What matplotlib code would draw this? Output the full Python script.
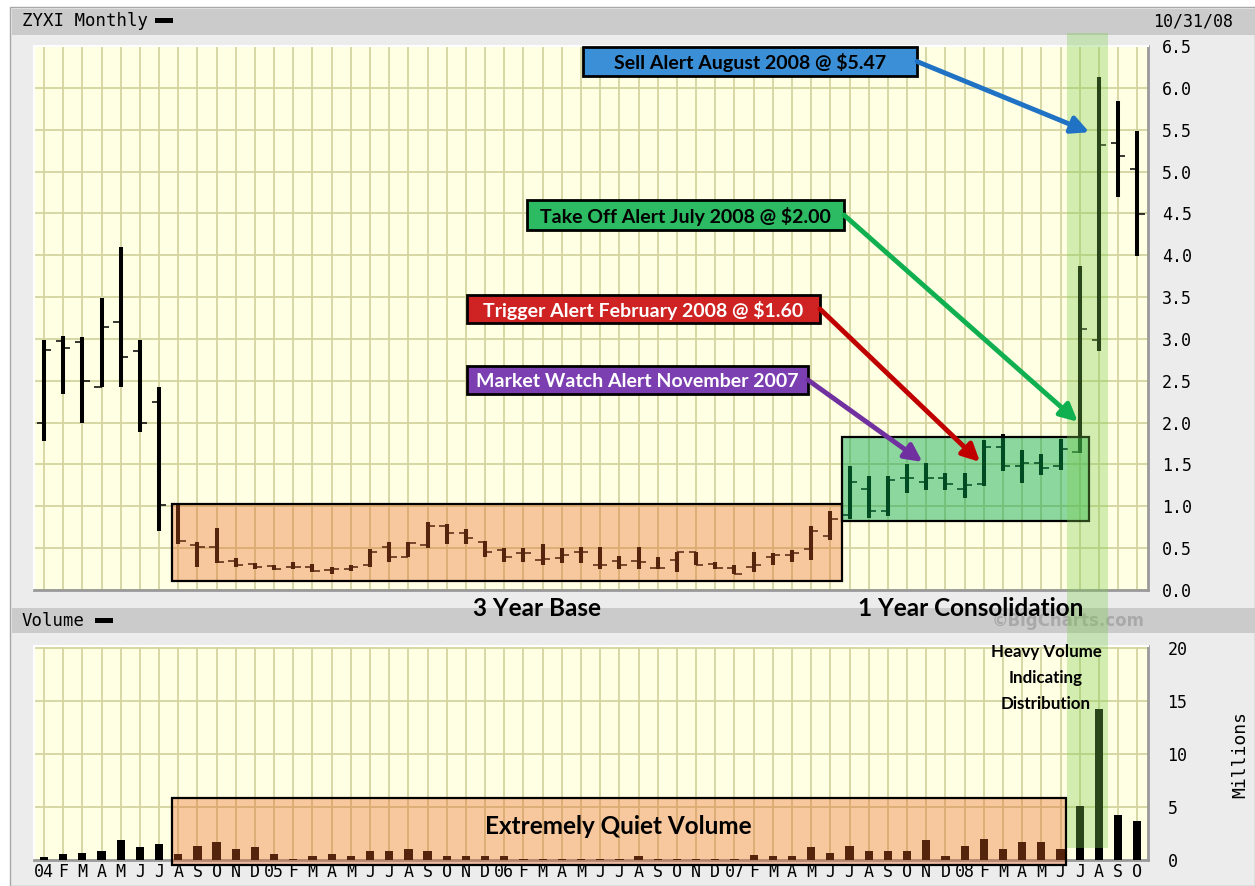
import matplotlib
matplotlib.use("Agg")
import matplotlib.pyplot as plt
from matplotlib.patches import Rectangle

W, H = 1255, 886

# month labels Jan 2004 .. Oct 2008
month_labels = ['04', 'F', 'M', 'A', 'M', 'J', 'J', 'A', 'S', 'O', 'N', 'D',
                '05', 'F', 'M', 'A', 'M', 'J', 'J', 'A', 'S', 'O', 'N', 'D',
                '06', 'F', 'M', 'A', 'M', 'J', 'J', 'A', 'S', 'O', 'N', 'D',
                '07', 'F', 'M', 'A', 'M', 'J', 'J', 'A', 'S', 'O', 'N', 'D',
                '08', 'F', 'M', 'A', 'M', 'J', 'J', 'A', 'S', 'O']

opens = [1.99, 2.98, 2.96, 2.43, 3.20, 2.85, 2.25, 1.03, 0.54, 0.51, 0.35, 0.31,
         0.29, 0.27, 0.27, 0.24, 0.25, 0.30, 0.51, 0.40, 0.54, 0.76, 0.68, 0.57,
         0.48, 0.44, 0.36, 0.38, 0.45, 0.30, 0.35, 0.35, 0.26, 0.36, 0.45, 0.31,
         0.26, 0.28, 0.39, 0.42, 0.49, 0.65, 0.90, 1.21, 0.94, 1.34, 1.29, 1.34,
         1.21, 1.27, 1.71, 1.48, 1.52, 1.48, 1.65, 2.99, 5.34, 5.03]
highs = [2.99, 3.04, 3.02, 3.49, 4.10, 2.99, 2.43, 1.04, 0.57, 0.74, 0.38, 0.32,
         0.30, 0.34, 0.31, 0.27, 0.30, 0.49, 0.57, 0.57, 0.81, 0.79, 0.73, 0.59,
         0.50, 0.50, 0.55, 0.50, 0.51, 0.51, 0.41, 0.51, 0.40, 0.45, 0.45, 0.34,
         0.30, 0.45, 0.44, 0.48, 0.76, 0.94, 1.48, 1.36, 1.36, 1.50, 1.52, 1.40,
         1.40, 1.79, 1.86, 1.67, 1.63, 1.81, 3.87, 6.13, 5.84, 5.48]
lows = [1.78, 2.34, 1.99, 2.43, 2.42, 1.89, 0.71, 0.55, 0.27, 0.32, 0.27, 0.25,
        0.24, 0.25, 0.21, 0.19, 0.23, 0.27, 0.34, 0.40, 0.50, 0.55, 0.55, 0.40,
        0.34, 0.34, 0.30, 0.32, 0.32, 0.25, 0.25, 0.25, 0.25, 0.21, 0.30, 0.25,
        0.19, 0.21, 0.30, 0.34, 0.36, 0.60, 0.85, 0.86, 0.88, 1.16, 1.20, 1.20,
        1.10, 1.24, 1.42, 1.28, 1.37, 1.43, 1.64, 2.86, 4.69, 3.99]
closes = [2.87, 2.89, 2.50, 3.14, 2.78, 1.99, 1.02, 0.59, 0.51, 0.34, 0.30, 0.27,
          0.25, 0.28, 0.23, 0.25, 0.28, 0.46, 0.40, 0.56, 0.76, 0.68, 0.62, 0.46,
          0.39, 0.44, 0.37, 0.42, 0.45, 0.30, 0.30, 0.34, 0.26, 0.45, 0.30, 0.26,
          0.19, 0.30, 0.42, 0.44, 0.70, 0.85, 1.29, 0.94, 1.32, 1.34, 1.34, 1.27,
          1.26, 1.71, 1.48, 1.52, 1.46, 1.69, 3.12, 5.32, 5.18, 4.49]
volume_m = [0.31, 0.53, 0.69, 0.88, 1.88, 1.19, 1.50, 0.53, 1.35, 1.66, 1.03, 1.19,
            0.53, 0.05, 0.38, 0.53, 0.38, 0.85, 0.85, 1.03, 0.88, 0.38, 0.38, 0.38,
            0.38, 0.05, 0.05, 0.05, 0.05, 0.05, 0.05, 0.38, 0.05, 0.05, 0.05, 0.05,
            0.05, 0.47, 0.38, 0.38, 1.19, 0.69, 1.35, 0.85, 0.85, 0.85, 1.88, 0.38,
            1.35, 2.00, 1.03, 1.66, 1.66, 1.03, 5.08, 14.26, 4.29, 3.67]

price_ticks = [i * 0.5 for i in range(14)]
volume_ticks = [0, 5, 10, 15, 20]

x = list(range(len(month_labels)))

fig = plt.figure(figsize=(W / 100, H / 100), dpi=100)
fig.patch.set_facecolor('white')


def px_axes(l, t, r, b, **kw):
    return fig.add_axes([l / W, 1 - b / H, (r - l) / W, (b - t) / H], **kw)


mono = 'DejaVu Sans Mono'
ann_font = dict(family='Lato', weight='bold')
grid_c = '#d4d4a0'
plot_bg = '#ffffe3'
orange, orange_a = '#eb6524', 0.36
green, green_a = '#00a84a', 0.45

# background / header bands
bg = px_axes(0, 0, W, H, zorder=-5)
bg.set_xlim(0, W)
bg.set_ylim(H, 0)
bg.axis('off')
bg.add_patch(Rectangle((10, 7), W - 10, H - 7, facecolor='#ececec', edgecolor='#a8a8a8', lw=1))
bg.add_patch(Rectangle((12, 9), W - 12, 26, facecolor='#cbcbcb', edgecolor='none'))
bg.add_patch(Rectangle((12, 608), W - 12, 25, facecolor='#cbcbcb', edgecolor='none'))
bg.text(22, 21, 'ZYXI Monthly', family=mono, fontsize=12.5, va='center', ha='left')
bg.add_patch(Rectangle((155, 18), 18, 5, facecolor='black'))
bg.text(1233, 21, '10/31/08', family=mono, fontsize=12, va='center', ha='right')
bg.text(22, 621, 'Volume', family=mono, fontsize=12.5, va='center', ha='left')
bg.add_patch(Rectangle((95, 618), 18, 5, facecolor='black'))
bg.text(1068, 621, '\u00a9BigCharts.com', family='DejaVu Sans', weight='bold',
        fontsize=12, color='#a9a9a9', va='center', ha='center')
bg.text(1240, 755, 'Millions', family=mono, fontsize=13, rotation=90, va='center', ha='center')

xlim = (-0.52, 57.56)


def style_axes(a):
    a.set_facecolor(plot_bg)
    a.set_xlim(*xlim)
    a.set_xticks(x)
    a.grid(True, color=grid_c, lw=1.3)
    a.set_axisbelow(True)
    a.tick_params(length=0)
    for s in ['top', 'left']:
        a.spines[s].set_color('white')
        a.spines[s].set_linewidth(1.5)
    for s in ['bottom', 'right']:
        a.spines[s].set_color('#9a9a9a')
        a.spines[s].set_linewidth(2)
    a.yaxis.tick_right()


# price panel
ax = px_axes(34, 46, 1148, 590)
style_axes(ax)
ax.set_ylim(0, 6.5)
ax.set_yticks(price_ticks)
ax.set_yticklabels(['%.1f' % v for v in price_ticks], family=mono, fontsize=12)
ax.tick_params(axis='y', pad=10)
ax.set_xticklabels([])
ax.vlines(x, lows, highs, color='black', lw=2.9, zorder=3)
ax.hlines(opens, [i - 0.38 for i in x], x, color='black', lw=1.1, zorder=3)
ax.hlines(closes, x, [i + 0.38 for i in x], color='black', lw=1.1, zorder=3)

# shaded zones in price panel
ax.add_patch(Rectangle((6.67, 0.11), 41.6 - 6.67, 1.03 - 0.11, facecolor=orange,
                       alpha=orange_a, zorder=4, clip_on=False))
ax.add_patch(Rectangle((6.67, 0.11), 41.6 - 6.67, 1.03 - 0.11, facecolor='none',
                       edgecolor='black', lw=1.6, zorder=4, clip_on=False))
ax.add_patch(Rectangle((41.6, 0.83), 54.5 - 41.6, 1.83 - 0.83, facecolor=green,
                       alpha=green_a, zorder=4, clip_on=False))
ax.add_patch(Rectangle((41.6, 0.83), 54.5 - 41.6, 1.83 - 0.83, facecolor='none',
                       edgecolor='black', lw=1.6, zorder=4, clip_on=False))

# volume panel
vx = px_axes(34, 646, 1148, 860)
style_axes(vx)
vx.set_ylim(0, 20.2)
vx.set_yticks(volume_ticks)
vx.set_yticklabels([str(v) for v in volume_ticks], family=mono, fontsize=12, ha='left')
vx.tick_params(axis='y', pad=14)
vx.set_xticklabels(month_labels, family=mono, fontsize=12)
vx.tick_params(axis='x', pad=2)
vx.bar(x, volume_m, width=0.43, color='black', zorder=3)
vx.add_patch(Rectangle((6.67, -0.5), 53.3 - 6.67, 5.83 + 0.5, facecolor=orange,
                       alpha=orange_a, zorder=4, clip_on=False))
vx.add_patch(Rectangle((6.67, -0.5), 53.3 - 6.67, 5.83 + 0.5, facecolor='none',
                       edgecolor='black', lw=1.6, zorder=4, clip_on=False))

# overlay for annotations
ov = px_axes(0, 0, W, H, zorder=10)
ov.set_xlim(0, W)
ov.set_ylim(H, 0)
ov.axis('off')
ov.patch.set_alpha(0)

# green highlight stripe across both panels (Jul-Aug 2008)
ov.add_patch(Rectangle((1067, 33), 41, 815, facecolor='#7ccd4c', alpha=0.34, edgecolor='none'))

alerts = [
    ('Sell Alert August 2008 @ $5.47', (583, 47, 917, 76), '#3b8fd6', '#1f72c4', 'black', (54.5, 5.47)),
    ('Take Off Alert July 2008 @ $2.00', (527, 200, 844, 230), '#2cbb62', '#10b050', 'black', (53.9, 2.01)),
    ('Trigger Alert February 2008 @ $1.60', (467, 295, 820, 323), '#cf2222', '#c00000', 'white', (48.8, 1.53)),
    ('Market Watch Alert November 2007', (467, 366, 808, 394), '#7b3fb1', '#7030a0', 'white', (45.8, 1.53)),
]
for label, (l, t, r, b), fc, ac, tc, target in alerts:
    ov.annotate('', xy=target, xycoords=ax.transData, xytext=(r, (t + b) / 2),
                textcoords=ov.transData,
                arrowprops=dict(arrowstyle='-|>', color=ac, lw=3.5, mutation_scale=26,
                                shrinkA=0, shrinkB=0))
    ov.add_patch(Rectangle((l, t), r - l, b - t, facecolor=fc, edgecolor='black', lw=2))
    ov.text((l + r) / 2, (t + b) / 2 + 1, label, color=tc, fontsize=14, ha='center',
            va='center', **ann_font)

ov.text(537, 609, '3 Year Base', fontsize=17.5, ha='center', va='center', **ann_font)
ov.text(971, 609, '1 Year Consolidation', fontsize=17.5, ha='center', va='center', **ann_font)
ov.text(618, 826, 'Extremely Quiet Volume', fontsize=17.5, ha='center', va='center', **ann_font)
for txt, yy in [('Heavy Volume', 652), ('Indicating', 678), ('Distribution', 704)]:
    ov.text(1046, yy, txt, fontsize=12.2, ha='center', va='center', **ann_font)

fig.savefig('out.png', dpi=100)
